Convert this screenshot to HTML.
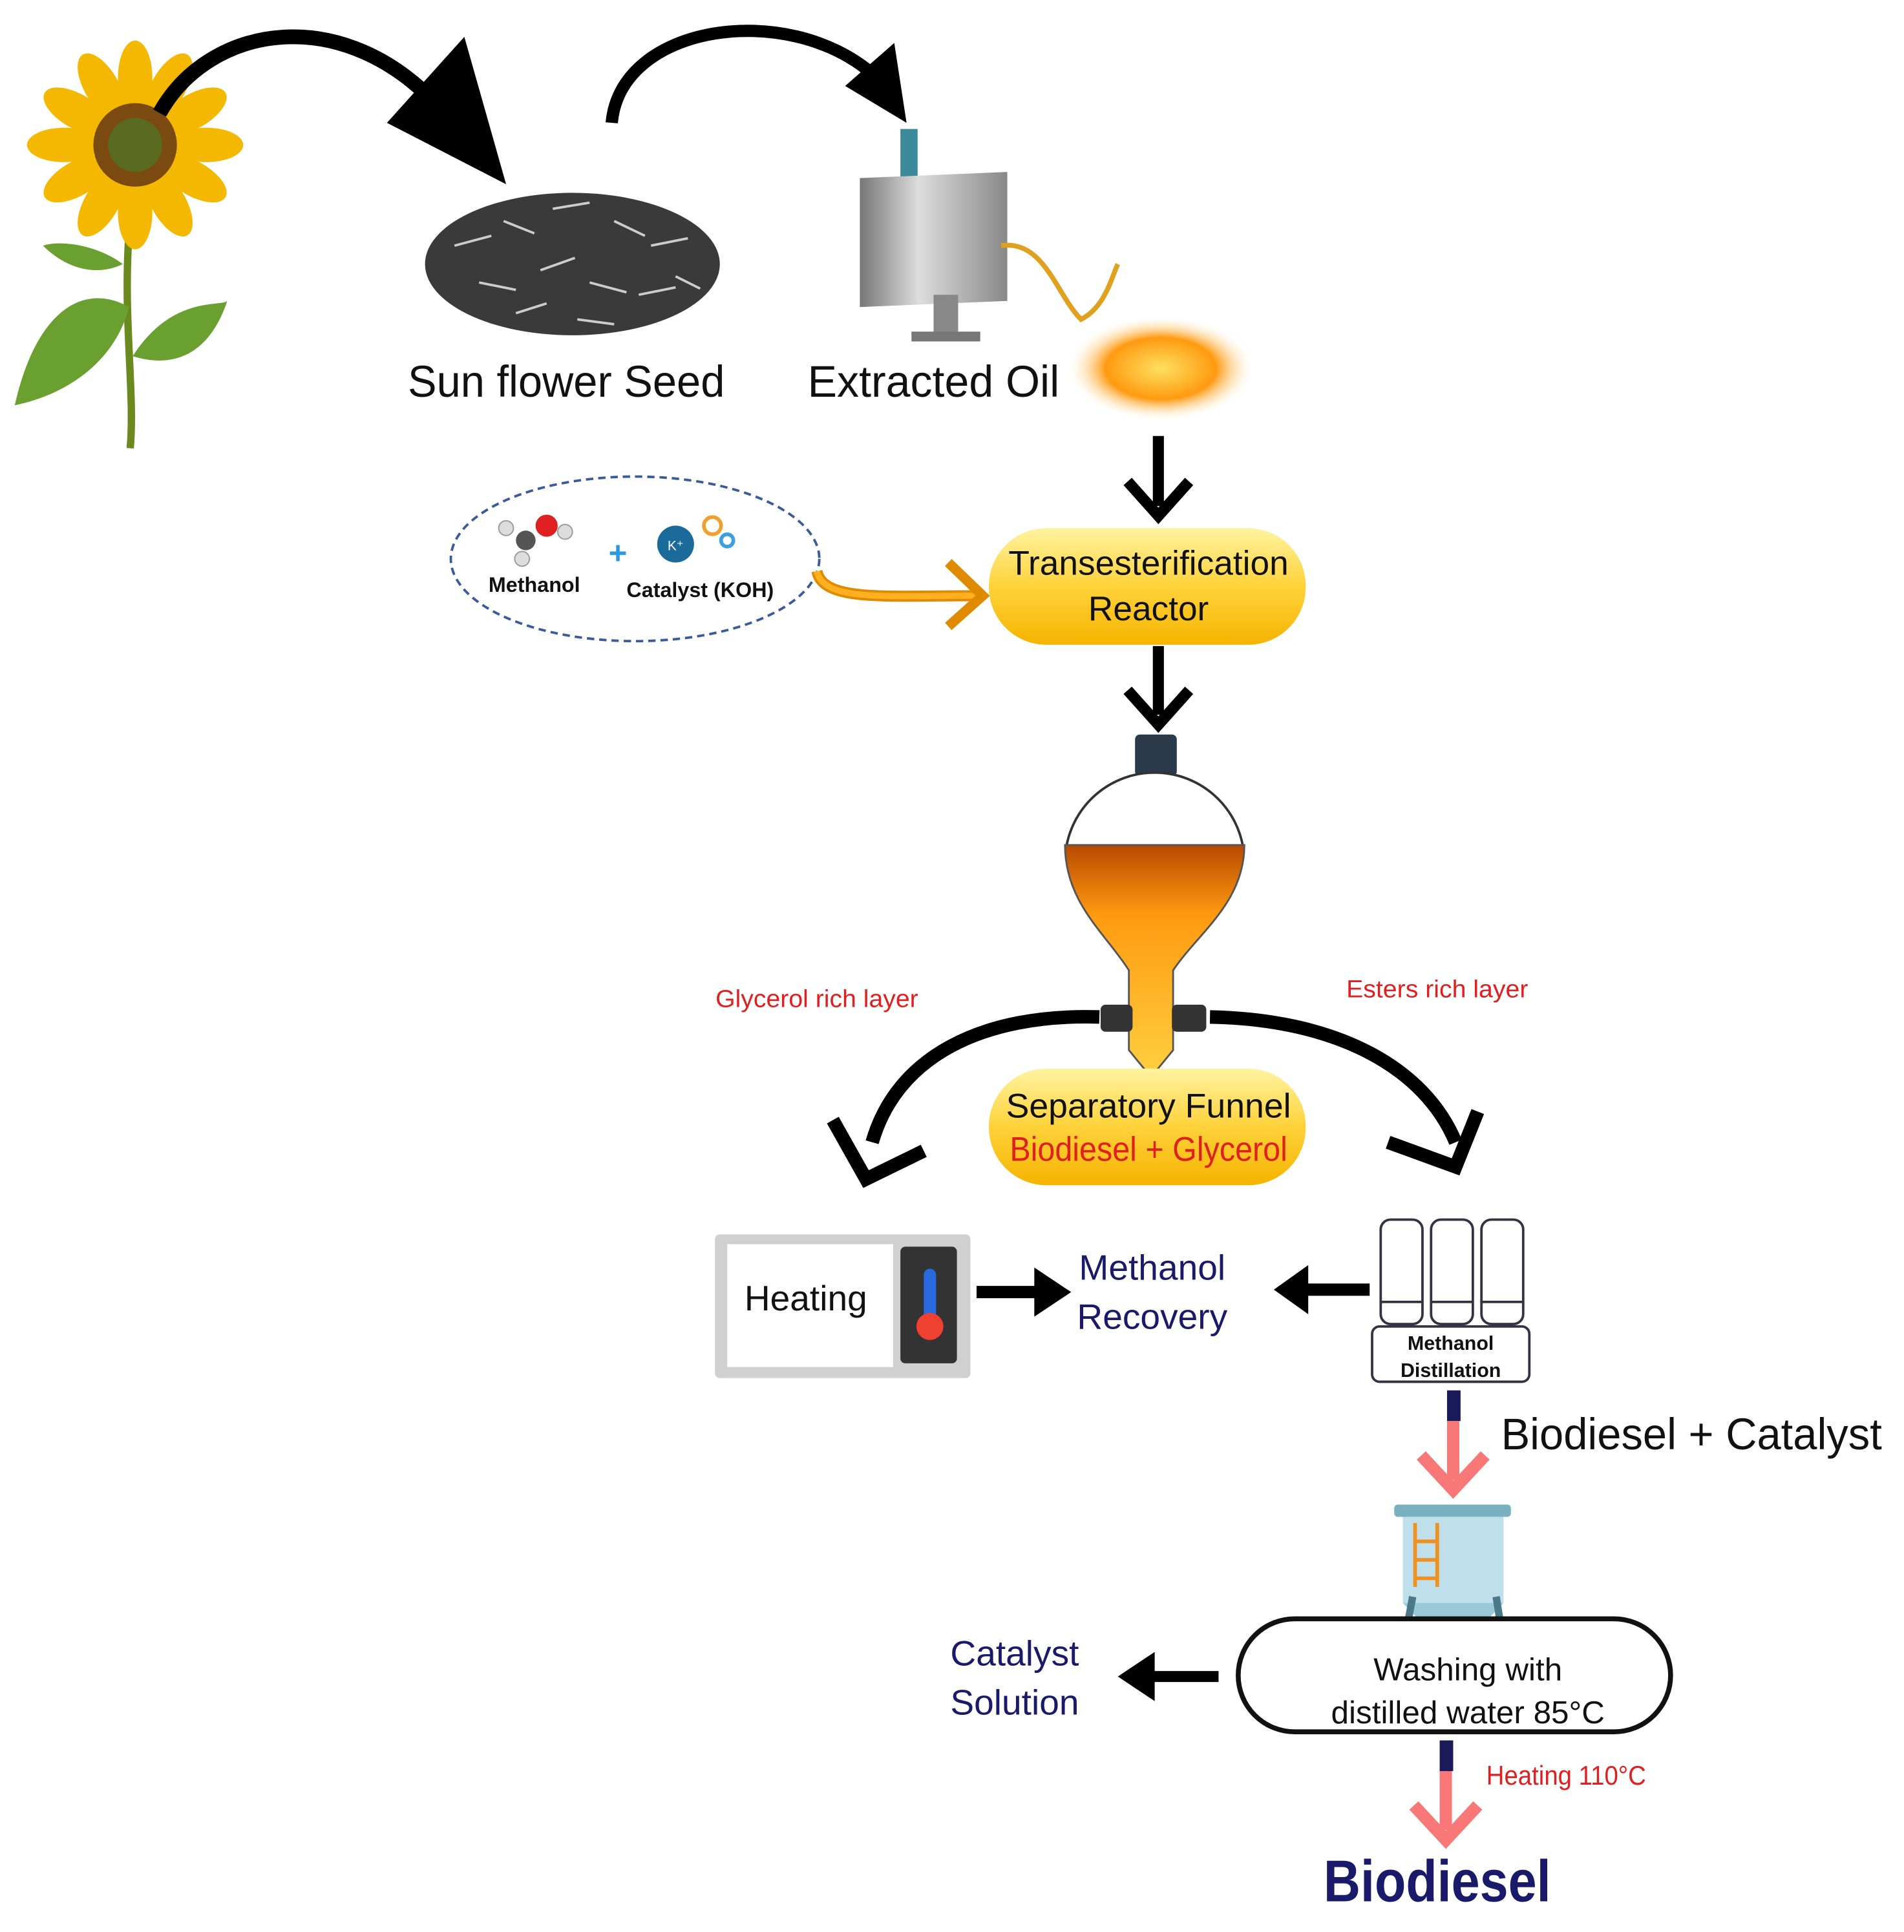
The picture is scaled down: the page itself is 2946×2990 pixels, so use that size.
<!DOCTYPE html>
<html><head><meta charset="utf-8"><style>
html,body{margin:0;padding:0;background:#fff;}
svg{display:block;}
text{font-family:"Liberation Sans",sans-serif;}
</style></head><body>
<svg width="2946" height="2990" viewBox="0 0 1550 1573" preserveAspectRatio="none" xmlns="http://www.w3.org/2000/svg">
<defs>
<linearGradient id="yel" x1="0" y1="0" x2="0" y2="1"><stop offset="0" stop-color="#fff3a0"/><stop offset="0.5" stop-color="#ffd23a"/><stop offset="1" stop-color="#f5b400"/></linearGradient>
<linearGradient id="oil" x1="0" y1="0" x2="0" y2="1"><stop offset="0" stop-color="#b84a00"/><stop offset="0.3" stop-color="#ff9a10"/><stop offset="1" stop-color="#ffd040"/></linearGradient>
<radialGradient id="pud"><stop offset="0" stop-color="#ffe060"/><stop offset="0.6" stop-color="#ff9a10"/><stop offset="1" stop-color="#fff0d0" stop-opacity="0"/></radialGradient>
<linearGradient id="metal" x1="0" x2="1"><stop offset="0" stop-color="#777"/><stop offset="0.4" stop-color="#ddd"/><stop offset="1" stop-color="#888"/></linearGradient>
</defs>

<!-- sunflower -->
<path d="M105,190 C100,260 110,320 106,365" stroke="#6a8a20" stroke-width="6" fill="none"/>
<path d="M105,250 C70,230 30,250 12,330 C60,320 95,290 105,250Z" fill="#6aa030"/>
<path d="M108,290 C140,240 180,250 185,245 C170,290 140,300 108,290Z" fill="#6aa030"/>
<path d="M100,215 C80,200 50,195 35,200 C55,220 80,225 100,215Z" fill="#6aa030"/>
<g transform="translate(110,118)">
<g fill="#f5b800">
<ellipse cx="0" cy="-55" rx="14" ry="30"/><ellipse cx="0" cy="55" rx="14" ry="30"/>
<ellipse cx="-58" cy="0" rx="30" ry="14"/><ellipse cx="58" cy="0" rx="30" ry="14"/>
<ellipse cx="0" cy="-55" rx="14" ry="30" transform="rotate(30)"/><ellipse cx="0" cy="-55" rx="14" ry="30" transform="rotate(60)"/>
<ellipse cx="0" cy="-55" rx="14" ry="30" transform="rotate(120)"/><ellipse cx="0" cy="-55" rx="14" ry="30" transform="rotate(150)"/>
<ellipse cx="0" cy="-55" rx="14" ry="30" transform="rotate(210)"/><ellipse cx="0" cy="-55" rx="14" ry="30" transform="rotate(240)"/>
<ellipse cx="0" cy="-55" rx="14" ry="30" transform="rotate(300)"/><ellipse cx="0" cy="-55" rx="14" ry="30" transform="rotate(330)"/>
</g>
<circle r="34" fill="#7a4a10"/><circle r="22" fill="#5a6a20"/>
</g>

<path d="M130,92 C170,20 280,0 360,90" stroke="#000" stroke-width="12" fill="none"/>
<path d="M315,100 L378,30 L412,150 Z" fill="#000"/>
<ellipse cx="466" cy="215" rx="120" ry="58" fill="#3a3a3a"/>
<g stroke="#ccc" stroke-width="2">
<path d="M370,200 l30,-8 M410,180 l25,10 M450,170 l30,-5 M500,180 l25,12 M530,200 l30,-6 M390,230 l30,6 M440,220 l28,-10 M480,230 l30,8 M520,240 l30,-6 M420,255 l25,-8 M470,260 l30,4 M550,225 l20,10"/>
</g>
<text x="461" y="323" font-size="36" text-anchor="middle" fill="#111" textLength="258" lengthAdjust="spacingAndGlyphs">Sun flower Seed</text>

<path d="M498,100 C505,20 640,0 710,60" stroke="#000" stroke-width="10" fill="none"/>
<path d="M688,70 L728,35 L738,100 Z" fill="#000"/>
<rect x="733" y="105" width="14" height="40" fill="#3a8a9a"/>
<path d="M700,145 L820,140 L820,245 L700,250 Z" fill="url(#metal)"/>
<rect x="760" y="240" width="20" height="35" fill="#888"/>
<rect x="742" y="270" width="56" height="8" fill="#777"/>
<path d="M815,200 C850,195 860,240 880,260 C900,250 905,225 910,215" stroke="#e0a020" stroke-width="4" fill="none"/>
<text x="760" y="323" font-size="36" text-anchor="middle" fill="#111" textLength="205" lengthAdjust="spacingAndGlyphs">Extracted Oil</text>
<ellipse cx="945" cy="300" rx="75" ry="42" fill="url(#pud)"/>

<path d="M943,355 V412" stroke="#000" stroke-width="9"/>
<path d="M918,392 L943,420 L968,392" stroke="#000" stroke-width="9" fill="none"/>

<ellipse cx="517" cy="455" rx="150" ry="67" fill="none" stroke="#3a5a9a" stroke-width="2" stroke-dasharray="6,4"/>
<circle cx="445" cy="428" r="9" fill="#e02020"/><circle cx="428" cy="440" r="8" fill="#555"/><circle cx="412" cy="430" r="6" fill="#ddd" stroke="#999"/><circle cx="425" cy="455" r="6" fill="#ddd" stroke="#999"/><circle cx="460" cy="433" r="6" fill="#ddd" stroke="#999"/>
<text x="503" y="459" font-size="26" text-anchor="middle" fill="#2a9ae0" font-weight="bold">+</text>
<circle cx="550" cy="443" r="15" fill="#1a6a9a"/><text x="550" y="448" font-size="11" text-anchor="middle" fill="#fff">K⁺</text>
<circle cx="580" cy="428" r="7" fill="none" stroke="#f0a030" stroke-width="3"/><circle cx="592" cy="440" r="5" fill="none" stroke="#3aa0e0" stroke-width="3"/>
<text x="435" y="482" font-size="17" text-anchor="middle" font-weight="bold" fill="#111">Methanol</text>
<text x="570" y="486" font-size="17" text-anchor="middle" font-weight="bold" fill="#111">Catalyst (KOH)</text>
<path d="M665,465 C670,490 720,485 795,485" stroke="#e08a00" stroke-width="9" fill="none"/>
<path d="M665,465 C670,490 720,485 795,485" stroke="#ffb020" stroke-width="5" fill="none"/>
<path d="M772,458 L800,485 L772,510" stroke="#e08a00" stroke-width="8" fill="none"/>

<rect x="805" y="430" width="258" height="95" rx="47" fill="url(#yel)"/>
<text x="935" y="468" font-size="28" text-anchor="middle" fill="#111" textLength="228" lengthAdjust="spacingAndGlyphs">Transesterification</text>
<text x="935" y="505" font-size="28" text-anchor="middle" fill="#111">Reactor</text>

<path d="M943,526 V582" stroke="#000" stroke-width="9"/>
<path d="M918,562 L943,590 L968,562" stroke="#000" stroke-width="9" fill="none"/>

<rect x="924" y="598" width="34" height="34" rx="4" fill="#2a3a4a"/>
<path d="M868,690 A73,73 0 0 1 1012,690 Z" fill="#fff" stroke="#333" stroke-width="2"/>
<path d="M867,688 L1013,688 C1013,735 975,760 955,790 L955,855 L937,877 L919,855 L919,790 C900,760 867,735 867,688 Z" fill="url(#oil)" stroke="#555" stroke-width="1.5"/>
<rect x="896" y="818" width="26" height="22" rx="4" fill="#333"/><rect x="954" y="818" width="28" height="22" rx="4" fill="#333"/>

<path d="M895,828 C800,825 730,860 710,930" stroke="#000" stroke-width="11" fill="none"/>
<path d="M678,912 L705,960 L752,937" stroke="#000" stroke-width="11" fill="none"/>
<path d="M985,828 C1090,830 1160,870 1185,930" stroke="#000" stroke-width="11" fill="none"/>
<path d="M1130,930 L1185,950 L1203,905" stroke="#000" stroke-width="11" fill="none"/>
<text x="665" y="820" font-size="20" text-anchor="middle" fill="#e02020" textLength="165" lengthAdjust="spacingAndGlyphs">Glycerol rich layer</text>
<text x="1170" y="812" font-size="20" text-anchor="middle" fill="#e02020" textLength="148" lengthAdjust="spacingAndGlyphs">Esters rich layer</text>

<rect x="805" y="870" width="258" height="95" rx="47" fill="url(#yel)"/>
<text x="935" y="910" font-size="28" text-anchor="middle" fill="#111" textLength="232" lengthAdjust="spacingAndGlyphs">Separatory Funnel</text>
<text x="935" y="945" font-size="28" text-anchor="middle" fill="#e02020" textLength="226" lengthAdjust="spacingAndGlyphs">Biodiesel + Glycerol</text>

<rect x="582" y="1005" width="208" height="117" rx="4" fill="#d0d0d0"/>
<rect x="592" y="1013" width="135" height="100" fill="#fff"/>
<rect x="733" y="1015" width="46" height="95" rx="4" fill="#333"/>
<rect x="752" y="1033" width="10" height="45" rx="5" fill="#2a6ae0"/><circle cx="757" cy="1080" r="11" fill="#f04030"/>
<text x="656" y="1067" font-size="29" text-anchor="middle" fill="#111">Heating</text>
<path d="M795,1052 L850,1052" stroke="#000" stroke-width="10"/><path d="M842,1032 L872,1052 L842,1072 Z" fill="#000"/>
<text x="938" y="1042" font-size="29" text-anchor="middle" fill="#1a1a6a">Methanol</text>
<text x="938" y="1082" font-size="29" text-anchor="middle" fill="#1a1a6a">Recovery</text>
<path d="M1115,1050 L1060,1050" stroke="#000" stroke-width="10"/><path d="M1065,1030 L1037,1050 L1065,1070 Z" fill="#000"/>

<g fill="#fff" stroke="#334" stroke-width="2">
<rect x="1124" y="993" width="34" height="85" rx="8"/><rect x="1165" y="993" width="34" height="85" rx="8"/><rect x="1206" y="993" width="34" height="85" rx="8"/>
<rect x="1117" y="1080" width="128" height="45" rx="6"/>
</g>
<path d="M1124,1060 h34 M1165,1060 h34 M1206,1060 h34" stroke="#334" stroke-width="2"/>
<text x="1181" y="1099" font-size="16" text-anchor="middle" font-weight="bold" fill="#111">Methanol</text>
<text x="1181" y="1121" font-size="16" text-anchor="middle" font-weight="bold" fill="#111">Distillation</text>

<rect x="1178" y="1132" width="11" height="25" fill="#1a1a5a"/>
<path d="M1183,1157 V1205" stroke="#f87878" stroke-width="10"/><path d="M1157,1185 L1183,1213 L1209,1185" stroke="#f87878" stroke-width="10" fill="none"/>
<text x="1377" y="1180" font-size="36" text-anchor="middle" fill="#111" textLength="310" lengthAdjust="spacingAndGlyphs">Biodiesel + Catalyst</text>

<rect x="1135" y="1225" width="95" height="10" rx="3" fill="#7ab0c0"/>
<rect x="1142" y="1235" width="82" height="70" fill="#bfe0ea"/>
<path d="M1142,1305 L1224,1305 L1200,1330 L1166,1330 Z" fill="#9acad8"/>
<path d="M1150,1300 L1143,1338 M1218,1300 L1224,1338" stroke="#4a7a8a" stroke-width="6"/>
<path d="M1152,1240 V1292 M1170,1240 V1292 M1152,1255 h18 M1152,1270 h18 M1152,1285 h18" stroke="#f09020" stroke-width="3"/>

<rect x="1008" y="1318" width="352" height="92" rx="46" fill="#fff" stroke="#111" stroke-width="4"/>
<text x="1195" y="1368" font-size="26" text-anchor="middle" fill="#111">Washing with</text>
<text x="1195" y="1403" font-size="26" text-anchor="middle" fill="#111">distilled water 85°C</text>

<path d="M992,1365 L935,1365" stroke="#000" stroke-width="9"/><path d="M940,1345 L910,1365 L940,1385 Z" fill="#000"/>
<text x="826" y="1356" font-size="29" text-anchor="middle" fill="#1a1a6a">Catalyst</text>
<text x="826" y="1396" font-size="29" text-anchor="middle" fill="#1a1a6a">Solution</text>

<rect x="1172" y="1417" width="11" height="25" fill="#1a1a5a"/>
<path d="M1177,1442 V1490" stroke="#f87878" stroke-width="10"/><path d="M1151,1470 L1177,1498 L1203,1470" stroke="#f87878" stroke-width="10" fill="none"/>
<text x="1275" y="1453" font-size="22" text-anchor="middle" fill="#e02020" textLength="130" lengthAdjust="spacingAndGlyphs">Heating 110°C</text>
<text x="1170" y="1548" font-size="48" text-anchor="middle" font-weight="bold" fill="#1a1a6a" textLength="185" lengthAdjust="spacingAndGlyphs">Biodiesel</text>
</svg>
</body></html>
